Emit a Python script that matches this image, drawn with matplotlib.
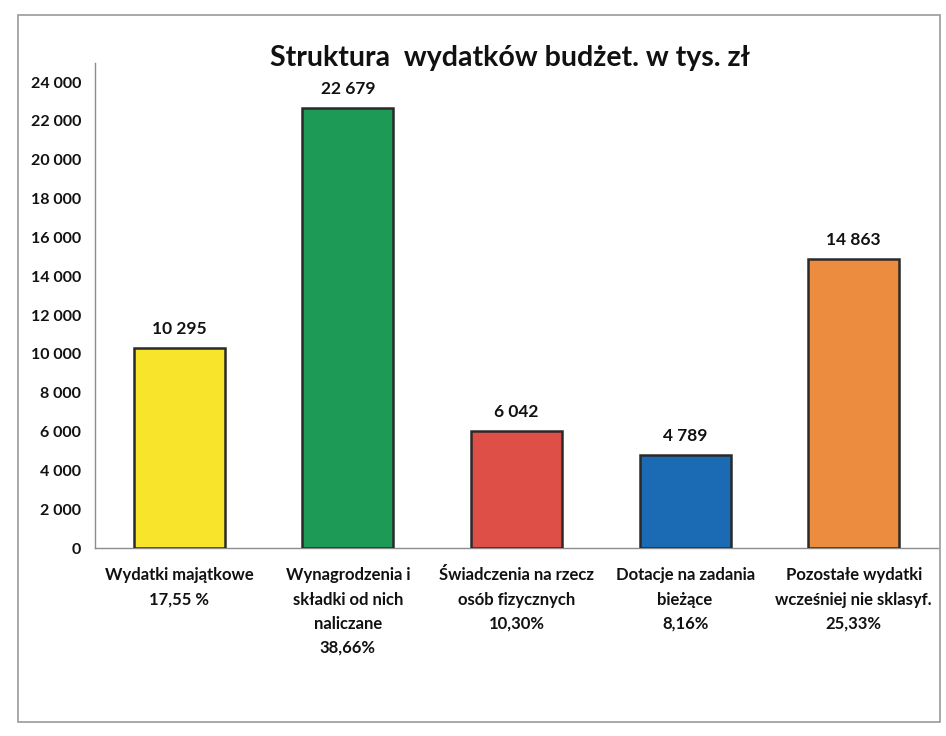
import matplotlib
matplotlib.use("Agg")
import matplotlib.pyplot as plt
from matplotlib.patches import Rectangle
from matplotlib.ticker import FuncFormatter

plt.rcParams['font.family'] = ['Lato', 'DejaVu Sans']

categories = [
    "Wydatki majątkowe\n17,55 %",
    "Wynagrodzenia i\nskładki od nich\nnaliczane\n38,66%",
    "Świadczenia na rzecz\nosób fizycznych\n10,30%",
    "Dotacje na zadania\nbieżące\n8,16%",
    "Pozostałe wydatki\nwcześniej nie sklasyf.\n25,33%",
]
values = [10295, 22679, 6042, 4789, 14863]
colors = ["#F9E42C", "#1E9A57", "#DE4F47", "#1B6AB4", "#EC8C3E"]
yticks = list(range(0, 24001, 2000))
title = "Struktura  wydatków budżet. w tys. zł"

fig = plt.figure(figsize=(9.46, 7.36), dpi=100)
fig.patches.append(Rectangle((18/946, 1-722/736), (940-18)/946, (722-15)/736,
                             transform=fig.transFigure, fill=False,
                             edgecolor="#9a9a9a", linewidth=1.2))
ax = fig.add_axes([95/946, 1-548/736, (938-95)/946, (548-62.6)/736])

x = range(len(categories))
ax.bar(x, values, width=0.54, color=colors, edgecolor="#2a2a2a", linewidth=1.8, zorder=3)

def fmt(v):
    return f"{int(v):,}".replace(",", " ")

for xi, v in zip(x, values):
    ax.annotate(fmt(v), (xi, v), xytext=(0, 8), textcoords="offset points",
                ha="center", va="bottom", fontsize=12.5, fontweight="bold", color="#111111")

ax.set_ylim(0, 25000)
ax.set_xlim(-0.5, len(categories) - 0.5)
ax.set_yticks(yticks)
ax.yaxis.set_major_formatter(FuncFormatter(lambda v, p: fmt(v)))
ax.set_xticks(list(x))
ax.set_xticklabels(categories, fontsize=12, fontweight="bold", linespacing=1.62, color="#111111")
for lbl in ax.get_yticklabels():
    lbl.set_fontweight("bold")
    lbl.set_fontsize(11.5)
    lbl.set_color("#111111")
ax.tick_params(axis="both", length=0)
ax.tick_params(axis="x", pad=14)
ax.tick_params(axis="y", pad=10)

for s in ["top", "right"]:
    ax.spines[s].set_visible(False)
ax.spines["left"].set_color("#8c8c8c")
ax.spines["bottom"].set_color("#8c8c8c")
ax.spines["left"].set_linewidth(1.0)
ax.spines["bottom"].set_linewidth(1.0)

fig.text(510/946, 1-58/736, title, ha="center", va="center",
         fontsize=20.5, fontweight="bold", color="#111111")

fig.savefig("out.png", dpi=100, facecolor="white")
